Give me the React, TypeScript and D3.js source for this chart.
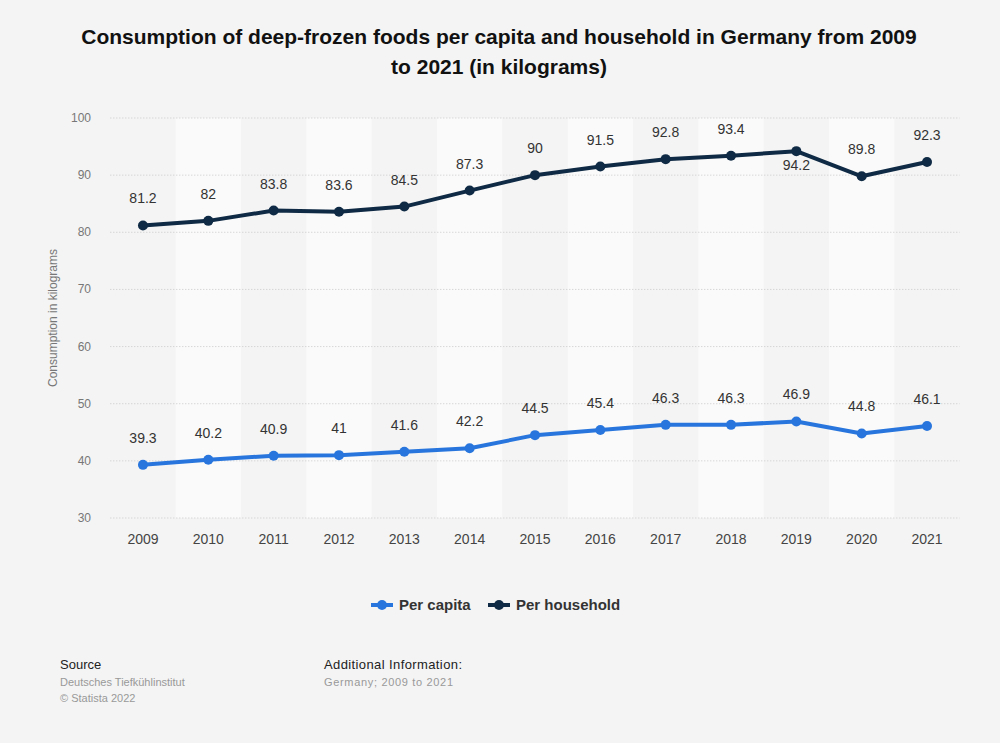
import * as d3 from 'd3';

const years = ['2009', '2010', '2011', '2012', '2013', '2014', '2015', '2016', '2017', '2018', '2019', '2020', '2021'];
const perCapita = [39.3, 40.2, 40.9, 41, 41.6, 42.2, 44.5, 45.4, 46.3, 46.3, 46.9, 44.8, 46.1];
const perHousehold = [81.2, 82, 83.8, 83.6, 84.5, 87.3, 90, 91.5, 92.8, 93.4, 94.2, 89.8, 92.3];
const yTicks = [30, 40, 50, 60, 70, 80, 90, 100];

const W = 1000;
const H = 743;
const font = '"Liberation Sans", Arial, sans-serif';

export default function App() {
    const x = d3.scaleBand().domain(years).range([110.3, 959.7]);
    const y = d3.scaleLinear().domain([30, 100]).range([518, 118]);
    const cx = (yr: string) => (x(yr) ?? 0) + x.bandwidth() / 2;

    const line = d3.line<number>()
        .x((_, i) => cx(years[i]))
        .y(d => y(d));

    const series = [
        { name: 'Per capita', values: perCapita, color: '#2876dd' },
        { name: 'Per household', values: perHousehold, color: '#0f2a44' },
    ];

    return (
        <svg width={W} height={H} style={{ position: 'absolute', left: 0, top: 0, background: '#f4f4f4' }}
            fontFamily={font}>
            <rect width={W} height={H} fill="#f4f4f4" />
            <text x={499} y={44} textAnchor="middle" fontSize={21} fontWeight="bold" fill="#111">
                Consumption of deep-frozen foods per capita and household in Germany from 2009
            </text>
            <text x={499} y={74} textAnchor="middle" fontSize={21} fontWeight="bold" fill="#111">
                to 2021 (in kilograms)
            </text>

            {years.map((yr, i) => i % 2 === 1 && (
                <rect key={yr} x={x(yr)} y={y(100)} width={x.bandwidth()} height={y(30) - y(100)} fill="#fafafa" />
            ))}

            {yTicks.map(t => (
                <g key={t}>
                    <line x1={110.3} x2={959.7} y1={y(t)} y2={y(t)} stroke="#c8c8c8" strokeDasharray="1,2" />
                    <text x={91} y={y(t) + 4} textAnchor="end" fontSize={12} fill="#777">{t}</text>
                </g>
            ))}

            <text transform={`translate(57,${y(65)}) rotate(-90)`} textAnchor="middle" fontSize={12} fill="#777">
                Consumption in kilograms
            </text>

            {years.map(yr => (
                <text key={yr} x={cx(yr)} y={544} textAnchor="middle" fontSize={14} fill="#444">{yr}</text>
            ))}

            {series.map(s => (
                <g key={s.name}>
                    <path d={line(s.values) ?? ''} fill="none" stroke={s.color} strokeWidth={4} strokeLinejoin="round" />
                    {s.values.map((v, i) => (
                        <circle key={i} cx={cx(years[i])} cy={y(v)} r={5} fill={s.color} />
                    ))}
                </g>
            ))}

            {series.map(s => s.values.map((v, i) => {
                const below = s.name === 'Per household' && years[i] === '2019';
                return (
                    <text key={s.name + i} x={cx(years[i])} y={below ? y(v) + 19 : y(v) - 22}
                        textAnchor="middle" fontSize={14} fill="#333">{v}</text>
                );
            }))}

            {series.map((s, i) => {
                const lx = i === 0 ? 371 : 488;
                return (
                    <g key={s.name}>
                        <line x1={lx} x2={lx + 22} y1={605} y2={605} stroke={s.color} strokeWidth={4} />
                        <circle cx={lx + 11} cy={605} r={5} fill={s.color} />
                        <text x={lx + 28} y={610} fontSize={15} fontWeight="bold" fill="#333">{s.name}</text>
                    </g>
                );
            })}

            <text x={60} y={669} fontSize={13} fill="#222">Source</text>
            <text x={60} y={686} fontSize={11} fill="#999">Deutsches Tiefkühlinstitut</text>
            <text x={60} y={702} fontSize={11} fill="#999">© Statista 2022</text>
            <text x={324} y={669} fontSize={13} fill="#222" textLength={138}>Additional Information:</text>
            <text x={324} y={686} fontSize={11} fill="#999" textLength={129}>Germany; 2009 to 2021</text>
        </svg>
    );
}
